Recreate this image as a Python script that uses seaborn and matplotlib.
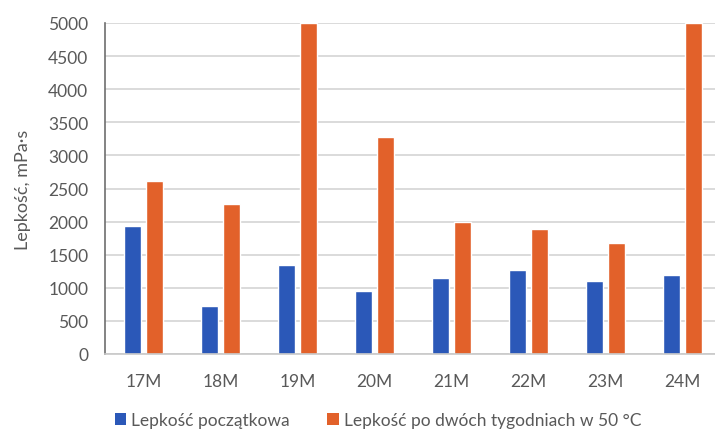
import matplotlib
matplotlib.use("Agg")
import matplotlib.pyplot as plt
import seaborn as sns
import pandas as pd
from matplotlib.patches import Patch

samples = ["17M", "18M", "19M", "20M", "21M", "22M", "23M", "24M"]
initial = [1940, 730, 1340, 950, 1150, 1270, 1100, 1200]
after_two_weeks = [2610, 2270, 5000, 3280, 2000, 1890, 1670, 5000]
series_names = ["Lepkość początkowa", "Lepkość po dwóch tygodniach w 50 °C"]
y_ticks = [0, 500, 1000, 1500, 2000, 2500, 3000, 3500, 4000, 4500, 5000]

colors = ["#2B58B8", "#E2612A"]
text_color = "#595959"

df = pd.DataFrame({
    "sample": samples * 2,
    "value": initial + after_two_weeks,
    "series": [series_names[0]] * len(samples) + [series_names[1]] * len(samples),
})

sns.set_theme(style="white")
plt.rcParams["font.family"] = ["Lato", "DejaVu Sans"]

fig = plt.figure(figsize=(7.15, 4.31), dpi=100)
ax = fig.add_axes([105 / 715, 1 - 355 / 431, (721 - 105) / 715, (355 - 24) / 431])

sns.barplot(data=df, x="sample", y="value", hue="series", order=samples,
            hue_order=series_names, palette=colors, width=0.565, gap=0.216,
            saturation=1, ax=ax, legend=False)

ax.set_ylim(0, 5000)
ax.set_xlim(-0.5, len(samples) - 0.5)
ax.set_yticks(y_ticks)
ax.yaxis.grid(True, color="#D4D4D4", linewidth=1.2)
ax.set_axisbelow(True)
ax.tick_params(axis="both", length=0, labelsize=12.5, colors=text_color)
ax.tick_params(axis="y", pad=12)
ax.tick_params(axis="x", pad=14)
ax.set_xlabel("")
ax.set_ylabel("Lepkość, mPa·s", fontsize=13, color=text_color, labelpad=12)

for side in ["top", "right"]:
    ax.spines[side].set_visible(False)
ax.spines["left"].set_color("#6E6E6E")
ax.spines["left"].set_linewidth(1.2)
ax.spines["bottom"].set_color("#C8C8C8")
ax.spines["bottom"].set_linewidth(1.2)

handles = [Patch(facecolor=c, edgecolor="none") for c in colors]
fig.legend(handles, series_names, loc="center", bbox_to_anchor=(378 / 715, 1 - 421 / 431),
           ncol=2, frameon=False, fontsize=12.5, labelcolor=text_color,
           handlelength=0.65, handleheight=0.65, handletextpad=0.3, columnspacing=2.15)

fig.savefig("out.png", dpi=100, facecolor="white")
